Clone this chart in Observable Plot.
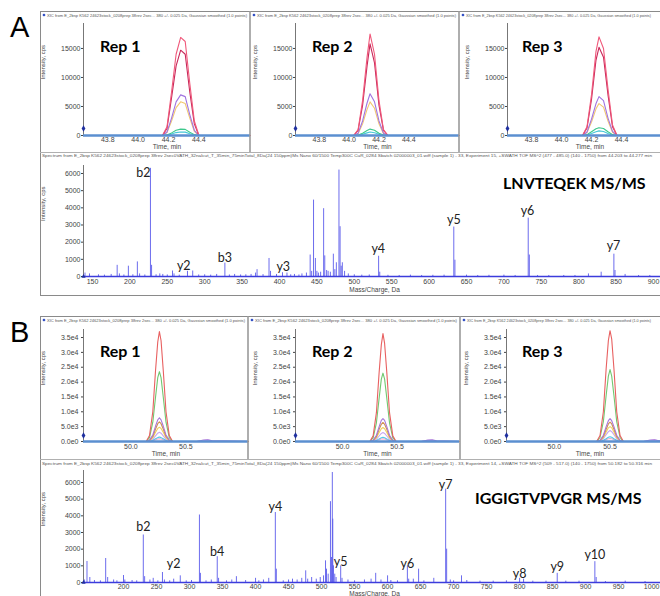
<!DOCTYPE html>
<html><head><meta charset="utf-8">
<script src="https://cdn.jsdelivr.net/npm/d3@7"></script>
<script src="https://cdn.jsdelivr.net/npm/@observablehq/plot@0.6"></script>
<style>
body{margin:0;background:#fff;}
#fig{position:relative;width:660px;height:596px;overflow:hidden;background:#fff;}
</style></head>
<body><div id="fig"></div>
<script>
// ---------------- DATA ----------------
const repNames = ["Rep 1", "Rep 2", "Rep 3"];
const peptideA = "LNVTEQEK MS/MS";
const peptideB = "IGGIGTVPVGR MS/MS";

// XIC panel A (time, min ; intensity, cps)
const timeTicksA = [43.8, 44.0, 44.2, 44.4];
const intTicksA = [0, 5000, 10000, 15000];
const xicColorsA = ["#45c8d8", "#3cc88c", "#f2c870", "#a074e0", "#c8285a", "#f0587a"];
const timesA1 = [43.64, 44.16, 44.19, 44.22, 44.25, 44.28, 44.31, 44.34, 44.37, 44.40, 44.74];
const timesA2 = [43.64, 44.03, 44.06, 44.09, 44.12, 44.14, 44.17, 44.20, 44.23, 44.26, 44.74];
const timesA3 = [43.64, 44.14, 44.17, 44.20, 44.23, 44.25, 44.28, 44.31, 44.34, 44.37, 44.74];
const xicA1 = [
  [0, 0, 50, 250, 500, 600, 580, 300, 80, 0, 0],
  [0, 0, 100, 450, 900, 1100, 1050, 550, 150, 0, 0],
  [0, 0, 500, 2500, 4800, 5800, 5500, 3000, 700, 0, 0],
  [0, 0, 600, 3000, 5800, 7000, 6700, 3600, 900, 0, 0],
  [0, 0, 1200, 6500, 12000, 14700, 14000, 7500, 2000, 0, 0],
  [0, 0, 1500, 7500, 14000, 16900, 16200, 9000, 2500, 0, 0]
];
const xicA2 = [
  [0, 0, 50, 200, 450, 600, 480, 200, 50, 0, 0],
  [0, 0, 100, 400, 850, 1100, 900, 400, 100, 0, 0],
  [0, 0, 300, 2000, 4500, 5800, 4700, 2000, 300, 0, 0],
  [0, 0, 400, 2500, 5600, 7200, 5800, 2500, 400, 0, 0],
  [0, 0, 900, 5200, 12000, 15800, 12500, 5200, 900, 0, 0],
  [0, 0, 1000, 6000, 13500, 17500, 14000, 6000, 1000, 0, 0]
];
const xicA3 = [
  [0, 0, 80, 350, 650, 800, 700, 350, 80, 0, 0],
  [0, 0, 150, 650, 1150, 1350, 1200, 650, 150, 0, 0],
  [0, 0, 500, 2300, 4600, 5500, 4900, 2500, 550, 0, 0],
  [0, 0, 600, 2800, 5500, 6700, 6000, 3000, 700, 0, 0],
  [0, 0, 1300, 6200, 13000, 15200, 13500, 7000, 1500, 0, 0],
  [0, 0, 1500, 7000, 14500, 17000, 15000, 8000, 1800, 0, 0]
];

// XIC panel B
const timeTicksB = [50.0, 50.5];
const intTicksB = [0, 5000, 10000, 15000, 20000, 25000, 30000, 35000];
const xicColorsB = ["#f0a8c8", "#50c8e8", "#c8a8f0", "#f0d060", "#d09050", "#a878d8", "#70c870", "#e86060"];
const timesB1 = [49.57, 50.14, 50.17, 50.20, 50.225, 50.245, 50.26, 50.275, 50.295, 50.32, 50.35, 50.38, 50.60, 50.66, 50.70, 50.74, 51.07];
const timesB2 = [49.57, 50.25, 50.28, 50.31, 50.335, 50.355, 50.37, 50.385, 50.405, 50.43, 50.46, 50.49, 50.72, 50.78, 50.82, 50.86, 51.07];
const timesB3 = [49.57, 50.38, 50.41, 50.44, 50.465, 50.485, 50.50, 50.515, 50.535, 50.56, 50.59, 50.62, 50.80, 50.86, 50.90, 50.94, 51.07];
const xicB1 = [
  [0, 0, 50, 250, 600, 850, 950, 850, 600, 250, 50, 0, 0, 250, 300, 120, 0],
  [0, 0, 80, 400, 900, 1300, 1500, 1300, 900, 400, 80, 0, 0, 0, 0, 0, 0],
  [0, 0, 150, 800, 1900, 2800, 3100, 2800, 1900, 800, 150, 0, 0, 350, 450, 200, 0],
  [0, 0, 250, 1300, 3100, 4400, 4800, 4400, 3100, 1300, 250, 0, 0, 0, 0, 0, 0],
  [0, 0, 350, 1700, 4200, 6000, 6600, 6000, 4200, 1700, 350, 0, 0, 0, 0, 0, 0],
  [0, 0, 450, 2200, 5200, 7300, 8000, 7300, 5200, 2200, 450, 0, 0, 500, 600, 250, 0],
  [0, 0, 1300, 6500, 15000, 21500, 23500, 21500, 15000, 6500, 1300, 0, 0, 0, 0, 0, 0],
  [0, 0, 2000, 10000, 24000, 33500, 37000, 34000, 24000, 10000, 2000, 0, 0, 0, 0, 0, 0]
];
const xicB2 = [
  [0, 0, 50, 250, 580, 820, 920, 820, 580, 250, 50, 0, 0, 200, 250, 100, 0],
  [0, 0, 80, 380, 880, 1250, 1450, 1250, 880, 380, 80, 0, 0, 0, 0, 0, 0],
  [0, 0, 150, 780, 1850, 2700, 3000, 2700, 1850, 780, 150, 0, 0, 300, 400, 150, 0],
  [0, 0, 250, 1250, 3000, 4300, 4700, 4300, 3000, 1250, 250, 0, 0, 0, 0, 0, 0],
  [0, 0, 340, 1650, 4100, 5800, 6400, 5800, 4100, 1650, 340, 0, 0, 0, 0, 0, 0],
  [0, 0, 440, 2100, 5000, 7100, 7700, 7100, 5000, 2100, 440, 0, 0, 450, 550, 200, 0],
  [0, 0, 1250, 6300, 14600, 21000, 23000, 21000, 14600, 6300, 1250, 0, 0, 0, 0, 0, 0],
  [0, 0, 1900, 9700, 23300, 32600, 36300, 33000, 23300, 9700, 1900, 0, 0, 0, 0, 0, 0]
];
const xicB3 = [
  [0, 0, 60, 270, 630, 900, 1000, 900, 630, 270, 60, 0, 0, 250, 300, 120, 0],
  [0, 0, 90, 420, 950, 1400, 1600, 1400, 950, 420, 90, 0, 0, 0, 0, 0, 0],
  [0, 0, 180, 950, 2300, 3300, 3700, 3300, 2300, 950, 180, 0, 0, 350, 450, 200, 0],
  [0, 0, 260, 1350, 3200, 4600, 5000, 4600, 3200, 1350, 260, 0, 0, 0, 0, 0, 0],
  [0, 0, 340, 1650, 4100, 5900, 6500, 5900, 4100, 1650, 340, 0, 0, 0, 0, 0, 0],
  [0, 0, 440, 2100, 5000, 7000, 7700, 7000, 5000, 2100, 440, 0, 0, 500, 600, 250, 0],
  [0, 0, 1350, 6700, 15500, 22000, 24200, 22000, 15500, 6700, 1350, 0, 0, 0, 0, 0, 0],
  [0, 0, 2000, 10000, 24500, 34000, 37300, 34500, 24500, 10000, 2000, 0, 0, 0, 0, 0, 0]
];

// MS/MS spectra [m/z, intensity]
const mzTicksA = [150, 200, 250, 300, 350, 400, 450, 500, 550, 600, 650, 700, 750, 800, 850, 900];
const mzTicksB = [200, 250, 300, 350, 400, 450, 500, 550, 600, 650, 700, 750, 800, 850, 900, 950, 1000];
const cpsTicks = [0, 1000, 2000, 3000, 4000, 5000, 6000];
const peaksA = [
  [140, 200], [146, 150], [158, 100], [166, 80], [175, 120], [183, 650], [186, 150], [192, 90], [198, 600],
  [204, 100], [210, 850], [213, 150], [220, 90], [227.5, 6300], [229, 650], [235, 100], [240, 150], [244, 120],
  [250, 90], [257, 320], [259, 150], [266, 80], [277, 300], [284, 320], [292, 90], [300, 100], [308, 80],
  [316, 120], [327, 780], [333, 90], [340, 120], [348, 90], [355, 100], [362, 120], [368, 200], [370, 400],
  [378, 110], [386, 1050], [388, 300], [396, 120], [404, 220], [410, 200], [415, 100], [420, 120], [426, 90],
  [430, 150], [436, 200], [441, 1250], [443, 300], [445.5, 4450], [448, 1050], [450, 300], [452, 200],
  [455, 250], [459, 3950], [460.5, 1200], [463, 350], [465, 300], [468, 250], [472, 1300], [474, 400],
  [476, 800], [479.5, 6200], [481, 2900], [482.5, 600], [484, 800], [487, 300], [492, 150], [500, 100],
  [510, 80], [520, 90], [532.5, 1180], [534, 250], [545, 70], [560, 60], [575, 80], [590, 60], [605, 70],
  [620, 80], [633, 2880], [634.5, 950], [650, 80], [665, 60], [680, 70], [700, 80], [715, 60],
  [732.5, 3400], [734, 1250], [745, 60], [760, 60], [780, 60], [795, 60], [813, 150], [830, 250],
  [847, 1300], [848.5, 350], [862, 120], [880, 60], [895, 60]
];
const labelsA = [
  ["b2", 218, 5800], ["y2", 272, 350], ["b3", 327, 820], ["y3", 405, 300],
  ["y4", 532, 1350], ["y5", 633, 3050], ["y6", 731.5, 3600], ["y7", 846.5, 1530]
];
const peaksB = [
  [141, 150], [144.7, 1260], [149, 300], [156, 120], [165, 100], [173, 1440], [176, 300], [185, 150],
  [190, 100], [200, 420], [202, 150], [213, 120], [220, 100], [230, 2850], [232, 350], [240, 150],
  [245, 250], [252, 100], [259, 600], [262, 150], [270, 100], [276, 200], [286, 400], [295, 100],
  [303, 120], [315, 4050], [316.5, 550], [325, 100], [333, 150], [342, 1550], [344, 250], [356, 100],
  [364, 150], [371, 350], [385, 120], [400, 250], [405, 100], [412, 150], [420, 250], [430, 4200],
  [431.5, 800], [442, 100], [450, 150], [456, 200], [463, 150], [470, 250], [476, 700], [479, 200],
  [485, 300], [492, 200], [498, 300], [503, 400], [506, 1300], [507.5, 800], [510, 500], [513.5, 4850],
  [515, 1500], [516.3, 6600], [517, 3800], [518, 1000], [520, 500], [522, 300], [529, 1000], [531, 250],
  [540, 150], [550, 100], [565, 150], [575, 200], [582, 550], [590, 150], [600, 400], [605, 120],
  [615, 100], [630, 1000], [632, 200], [639, 200], [647, 800], [655, 100], [670, 250], [688, 5600],
  [689.5, 2000], [695, 150], [700, 100], [712, 400], [720, 120], [740, 80], [760, 80], [780, 100],
  [800, 250], [806, 200], [820, 80], [840, 80], [857, 550], [870, 80], [890, 80], [914, 1250],
  [916, 300], [930, 60], [960, 80], [990, 60]
];
const labelsB = [
  ["b2", 230, 3100], ["y2", 276, 850], ["b4", 342, 1600], ["y4", 430, 4300], ["y5", 529, 1000],
  ["y6", 630, 900], ["y7", 688, 5600], ["y8", 800, 250], ["y9", 857, 700], ["y10", 914, 1400]
];

const xicHeader = "XIC from E_2bsp K562 24623stock_0208prep 38rev 2sec... 380 +/- 0.025 Da, Gaussian smoothed (1.0 points)";
const specHeaderA = "Spectrum from E_2bsp K562 24623stock_0208prep 38rev 2sec0VATH_32nalcut_T_35min_75minTotal_8Da(24 150ppm)Ms Nano 60/1500 Temp300C CuR_0284 Sbatch 02000003_01.wiff (sample 1) - 33, Experiment 15, +SWATH TOF MS^2 (477 - 485.0) (140 - 1750) from 44.203 to 44.277 min";
const specHeaderB = "Spectrum from E_2bsp K562 24623stock_0208prep 38rev 2sec0VATH_32nalcut_T_35min_75minTotal_8Da(24 150ppm)Ms Nano 60/1500 Temp300C CuR_0284 Sbatch 02000003_01.wiff (sample 1) - 33, Experiment 14, +SWATH TOF MS^2 (509 - 517.0) (140 - 1750) from 50.182 to 50.316 min";

// ---------------- DRAWING ----------------
const fig = document.getElementById("fig");
function place(node, left, top) {
  node.style.position = "absolute";
  node.style.left = left + "px";
  node.style.top = top + "px";
  fig.appendChild(node);
}
const baseStyle = {fontFamily: "'Liberation Sans', Arial, sans-serif", fontSize: "7px", color: "#444", background: "transparent", overflow: "visible"};
const expFmt = d => d.toExponential(1).replace("e+", "e");

function xicPlot(o) {
  const marks = [
    Plot.ruleX([o.xDomain[0]], {stroke: "#777", strokeWidth: 1}),
    ...o.series.map((vals, k) => Plot.line(o.times.map((t, i) => [t, vals[i]]),
      {x: d => d[0], y: d => d[1], stroke: o.colors[k], strokeWidth: 1.1})),
    Plot.ruleY([0], {stroke: "#5b8fd0", strokeWidth: 2.4}),
    Plot.dot([[o.xDomain[0], o.markerY]], {x: d => d[0], y: d => d[1], symbol: "diamond", r: 2, fill: "#1f2f9f"}),
    Plot.text(["Time, min"], {frameAnchor: "bottom", dy: o.labDy, text: d => d, fontSize: 6.5}),
    Plot.text(["Intensity, cps"], {frameAnchor: "left", dx: -40, rotate: -90, text: d => d, fontSize: 6})
  ];
  return Plot.plot({
    width: o.width, height: o.height,
    marginLeft: o.ml, marginRight: 0, marginTop: o.mt, marginBottom: o.mb,
    style: baseStyle,
    x: {domain: o.xDomain, ticks: o.xTicks, tickFormat: d => d.toFixed(1), tickSize: 0, tickPadding: o.xPad, label: null},
    y: {domain: o.yDomain, ticks: o.yTicks, tickFormat: o.yFmt, tickSize: 2, tickPadding: o.yPad, label: null},
    marks
  });
}

function specPlot(o) {
  return Plot.plot({
    width: o.width, height: o.height,
    marginLeft: o.ml, marginRight: 0, marginTop: o.mt, marginBottom: o.mb,
    style: baseStyle,
    x: {domain: o.xDomain, ticks: o.xTicks, tickFormat: d => String(d), tickSize: 0, tickPadding: o.xPad, label: null},
    y: {domain: o.yDomain, ticks: cpsTicks, tickFormat: d => String(d), tickSize: 2, tickPadding: 1, label: null},
    marks: [
      Plot.ruleX([o.xDomain[0]], {stroke: "#777", strokeWidth: 1}),
      Plot.ruleX(o.peaks, {x: d => d[0], y1: () => 0, y2: d => d[1], stroke: "#5252ea", strokeWidth: 1, strokeOpacity: 0.85}),
      Plot.ruleY([0], {stroke: "#3c3cdc", strokeWidth: 1.6}),
      Plot.dot([[o.xDomain[0], 0]], {x: d => d[0], y: d => d[1], symbol: "triangle", r: 1.6, fill: "#1f2f9f"}),
      Plot.text(o.labels, {x: d => d[1], y: d => d[2], text: d => d[0], lineAnchor: "bottom", fontFamily: "Lato, 'Open Sans', sans-serif", fontSize: 12.5, fill: "#222"}),
      Plot.text(["Mass/Charge, Da"], {frameAnchor: "bottom", dy: o.labDy, text: d => d, fontSize: 6.5}),
      Plot.text(["Intensity, cps"], {frameAnchor: "left", dx: -40, rotate: -90, text: d => d, fontSize: 6})
    ]
  });
}

// Panel A XICs
const layoutA = [{left: 40, width: 210, ml: 43}, {left: 250, width: 209, ml: 45}, {left: 459, width: 213, ml: 48}];
const timesA = [timesA1, timesA2, timesA3];
const seriesA = [xicA1, xicA2, xicA3];
layoutA.forEach((L, r) => {
  place(xicPlot({
    width: L.width, height: 135, ml: L.ml, mt: 5, mb: 18,
    times: timesA[r], series: seriesA[r], colors: xicColorsA,
    xDomain: [43.64, 44.74], xTicks: timeTicksA, xPad: 2,
    yDomain: [0, 19300], yTicks: intTicksA, yFmt: d => String(d), yPad: 1,
    markerY: 1200, labDy: 13
  }), L.left, 18);
});

// Panel B XICs
const layoutB = [{left: 40, width: 208, ml: 43}, {left: 248, width: 211, ml: 47}, {left: 460, width: 213, ml: 46}];
const timesB = [timesB1, timesB2, timesB3];
const seriesB = [xicB1, xicB2, xicB3];
layoutB.forEach((L, r) => {
  place(xicPlot({
    width: L.width, height: 137, ml: L.ml, mt: 6, mb: 19,
    times: timesB[r], series: seriesB[r], colors: xicColorsB,
    xDomain: [49.57, 51.07], xTicks: timeTicksB, xPad: 3,
    yDomain: [0, 37700], yTicks: intTicksB, yFmt: expFmt, yPad: 3,
    markerY: 2000, labDy: 14
  }), L.left, 323);
});

// Spectra
place(specPlot({width: 625, height: 137, ml: 43, mt: 7, mb: 19, xDomain: [138, 916], yDomain: [0, 6466],
  xTicks: mzTicksA, xPad: 3, peaks: peaksA, labels: labelsA, labDy: 15}), 40, 158);
place(specPlot({width: 625, height: 128, ml: 43, mt: 2, mb: 14, xDomain: [139.4, 1021], yDomain: [0, 6720],
  xTicks: mzTicksB, xPad: 2, peaks: peaksB, labels: labelsB, labDy: 13}), 40, 468);

// Overlay: frames, headers, titles
const ov = d3.select(fig).append("svg").attr("width", 660).attr("height", 596)
  .style("position", "absolute").style("left", 0).style("top", 0).style("pointer-events", "none");
function frame(top, bottom, sepY, dividers) {
  ov.append("rect").attr("x", 40.5).attr("y", top + 0.5).attr("width", 640).attr("height", bottom - top)
    .attr("fill", "none").attr("stroke", "#8a8a8a");
  dividers.forEach(x => ov.append("line").attr("x1", x).attr("x2", x).attr("y1", top).attr("y2", sepY)
    .attr("stroke", "#9a9a9a").attr("stroke-width", 1.6));
  ov.append("line").attr("x1", 40).attr("x2", 660).attr("y1", sepY + 0.5).attr("y2", sepY + 0.5).attr("stroke", "#b0b0b0");
}
frame(11, 295, 152, [250, 459]);
frame(316, 620, 459, [248, 460]);

function xicHeaders(y, lefts, rights) {
  lefts.forEach((l, i) => {
    ov.append("path").attr("d", `M${l + 4},${y - 1.6}l1.6,1.6l-1.6,1.6l-1.6,-1.6z`).attr("fill", "#1f3fbf");
    ov.append("text").attr("x", l + 7).attr("y", y + 1.5).attr("font-size", 3.6)
      .attr("font-family", "'Liberation Sans', Arial").attr("fill", "#555")
      .attr("textLength", rights[i] - l - 10).attr("lengthAdjust", "spacingAndGlyphs").text(xicHeader);
  });
}
xicHeaders(15, [40, 250, 459], [250, 459, 654]);
xicHeaders(320, [40, 248, 460], [248, 460, 654]);
ov.append("text").attr("x", 42).attr("y", 157).attr("font-size", 4).attr("fill", "#555")
  .attr("font-family", "'Liberation Sans', Arial").attr("textLength", 610).attr("lengthAdjust", "spacingAndGlyphs").text(specHeaderA);
ov.append("text").attr("x", 42).attr("y", 465).attr("font-size", 4).attr("fill", "#555")
  .attr("font-family", "'Liberation Sans', Arial").attr("textLength", 610).attr("lengthAdjust", "spacingAndGlyphs").text(specHeaderB);

ov.append("text").attr("x", 10).attr("y", 37).attr("font-size", 29).attr("font-family", "'Liberation Sans', Arial").text("A");
ov.append("text").attr("x", 10).attr("y", 342).attr("font-size", 29).attr("font-family", "'Liberation Sans', Arial").text("B");

const repXs = [100, 312, 522];
repNames.forEach((n, i) => {
  ov.append("text").attr("x", repXs[i]).attr("y", 52).attr("font-size", 16).attr("font-weight", 700)
    .attr("font-family", "Lato, 'Open Sans', sans-serif").text(n);
  ov.append("text").attr("x", repXs[i]).attr("y", 357).attr("font-size", 16).attr("font-weight", 700)
    .attr("font-family", "Lato, 'Open Sans', sans-serif").text(n);
});
ov.append("text").attr("x", 503).attr("y", 189).attr("font-size", 16).attr("font-weight", 700)
  .attr("font-family", "Lato, 'Open Sans', sans-serif").text(peptideA);
ov.append("text").attr("x", 475).attr("y", 504).attr("font-size", 16).attr("font-weight", 700)
  .attr("font-family", "Lato, 'Open Sans', sans-serif").text(peptideB);
</script>
</body></html>
